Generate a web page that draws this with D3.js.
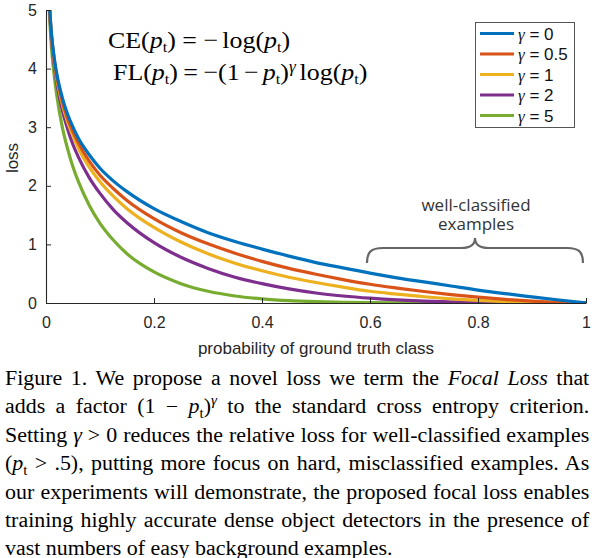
<!DOCTYPE html>
<html>
<head>
<meta charset="utf-8">
<script src="https://cdn.jsdelivr.net/npm/d3@7"></script>
<style>
  body { margin: 0; background: #fff; }
  #wrap { position: relative; width: 595px; height: 558px; overflow: hidden; }
  svg { position: absolute; left: 0; top: 0; }
  #caption { position: absolute; left: 5px; top: 364px; width: 585px;
             font-family: "Liberation Serif", "Times New Roman", serif; font-size: 20.5px;
             line-height: 28.4px; color: #000; }
  #caption div { height: 28.4px; width: 546px; transform: scaleX(1.07); transform-origin: 0 0;
                 text-align: justify; text-align-last: justify; white-space: nowrap; }
  #caption div.last { text-align-last: left; }
</style>
</head>
<body>
<div id="wrap"></div>
<script>
// probability of ground truth class (sample points)
var probs = [0.005, 0.01, 0.015, 0.02, 0.03, 0.04, 0.05, 0.06, 0.08, 0.1, 0.125, 0.15, 0.2, 0.25,
             0.3, 0.35, 0.4, 0.45, 0.5, 0.55, 0.6, 0.65, 0.7, 0.75, 0.8, 0.85, 0.9, 0.95, 1]

// loss values
var loss_g0  = [5.30, 4.61, 4.20, 3.91, 3.51, 3.22, 3.00, 2.81, 2.53, 2.30, 2.08, 1.90, 1.61, 1.39,
                1.20, 1.05, 0.92, 0.80, 0.69, 0.60, 0.51, 0.43, 0.36, 0.29, 0.22, 0.16, 0.105, 0.051, 0]
var loss_g05 = [5.29, 4.58, 4.17, 3.87, 3.45, 3.15, 2.92, 2.73, 2.42, 2.18, 1.95, 1.75, 1.44, 1.20,
                1.01, 0.85, 0.71, 0.59, 0.49, 0.40, 0.32, 0.255, 0.196, 0.144, 0.100, 0.063, 0.033, 0.012, 0]
var loss_g1  = [5.27, 4.56, 4.14, 3.83, 3.40, 3.09, 2.85, 2.64, 2.32, 2.07, 1.82, 1.61, 1.29, 1.04,
                0.84, 0.68, 0.55, 0.44, 0.35, 0.27, 0.20, 0.151, 0.107, 0.072, 0.045, 0.024, 0.011, 0.003, 0]
var loss_g2  = [5.25, 4.51, 4.08, 3.76, 3.30, 2.97, 2.70, 2.49, 2.14, 1.87, 1.59, 1.37, 1.03, 0.78,
                0.59, 0.44, 0.33, 0.24, 0.17, 0.12, 0.082, 0.053, 0.032, 0.018, 0.009, 0.004, 0.001, 0, 0]
var loss_g5  = [5.17, 4.38, 3.90, 3.54, 3.01, 2.63, 2.32, 2.07, 1.67, 1.36, 1.07, 0.84, 0.53, 0.33,
                0.20, 0.12, 0.071, 0.040, 0.022, 0.011, 0.005, 0.002, 0.001, 0, 0, 0, 0, 0, 0]

var gammas = ['0', '0.5', '1', '2', '5']
var colors = ['#0072BD', '#D95319', '#EDB120', '#7E2F8E', '#77AC30']
var xTicks = [0, 0.2, 0.4, 0.6, 0.8, 1]
var yTicks = [0, 1, 2, 3, 4, 5]

var series = [loss_g0, loss_g05, loss_g1, loss_g2, loss_g5].map(function (vals, i) {
  return { gamma: gammas[i], color: colors[i],
           pts: vals.map(function (v, j) { return [probs[j], v] }) }
})

var W = 595, H = 558
var m = { l: 46, r: 586, t: 10, b: 303 }

var svg = d3.select('#wrap').append('svg').attr('width', W).attr('height', H)

var x = d3.scaleLinear().domain([0, 1]).range([m.l, m.r])
var y = d3.scaleLinear().domain([0, 5]).range([m.b, m.t])

svg.append('defs').append('clipPath').attr('id', 'plot')
  .append('rect').attr('x', m.l).attr('y', m.t).attr('width', m.r - m.l).attr('height', m.b - m.t)

var line = d3.line().x(function (d) { return x(d[0]) }).y(function (d) { return y(d[1]) })
             .curve(d3.curveMonotoneX)

svg.append('g').attr('clip-path', 'url(#plot)')
  .selectAll('path').data(series.slice().reverse())
  .enter().append('path')
  .attr('d', function (d) { return line(d.pts) })
  .attr('fill', 'none')
  .attr('stroke', function (d) { return d.color })
  .attr('stroke-width', 3.2)

// axes, MATLAB style: ticks pointing in, no box
var xAxis = svg.append('g').attr('transform', 'translate(0,' + m.b + ')')
  .call(d3.axisBottom(x).tickValues(xTicks).tickSizeInner(-5).tickSizeOuter(0).tickPadding(14)
        .tickFormat(function (d) { return d === 0 || d === 1 ? d : d3.format('.1f')(d) }))
var yAxis = svg.append('g').attr('transform', 'translate(' + m.l + ',0)')
  .call(d3.axisLeft(y).tickValues(yTicks).tickSizeInner(-5).tickSizeOuter(0).tickPadding(9)
        .tickFormat(d3.format('d')))

;[xAxis, yAxis].forEach(function (a) {
  a.select('.domain').attr('stroke', '#262626').attr('stroke-width', 1.1)
  a.selectAll('.tick line').attr('stroke', '#262626')
  a.selectAll('text').attr('fill', '#262626')
    .style('font-family', '"Liberation Sans", Arial, sans-serif').style('font-size', '16px')
})

svg.append('text').attr('x', x(0.5)).attr('y', 354).attr('text-anchor', 'middle')
  .style('font-family', '"Liberation Sans", Arial, sans-serif').style('font-size', '17px')
  .attr('fill', '#262626').text('probability of ground truth class')

svg.append('text').attr('transform', 'translate(18,158) rotate(-90)').attr('text-anchor', 'middle')
  .style('font-family', '"Liberation Sans", Arial, sans-serif').style('font-size', '17px')
  .attr('fill', '#262626').text('loss')

// formulas
var serif = '"Liberation Serif", "Times New Roman", serif'
function pt(t, dx) {
  t.append('tspan').attr('dx', dx || 0).style('font-style', 'italic').text('p')
  t.append('tspan').attr('baseline-shift', '-25%').style('font-size', '15px').text('t')
}
function gap(t, s, w) { t.append('tspan').attr('dx', w).text(s) }

var ce = svg.append('text').attr('transform', 'translate(108,48) scale(1.08,1)')
  .style('font-family', serif).style('font-size', '24px')
ce.append('tspan').text('CE(')
pt(ce)
ce.append('tspan').text(')')
gap(ce, '=', 6)
gap(ce, '\u2212', 6)
gap(ce, 'log(', 4)
pt(ce)
ce.append('tspan').text(')')

var fl = svg.append('text').attr('transform', 'translate(113,80) scale(1.08,1)')
  .style('font-family', serif).style('font-size', '24px')
fl.append('tspan').text('FL(')
pt(fl)
fl.append('tspan').text(')')
gap(fl, '=', 5)
gap(fl, '\u2212(1', 5)
gap(fl, '\u2212', 4)
pt(fl, 4)
fl.append('tspan').text(')')
fl.append('tspan').attr('baseline-shift', '45%').style('font-size', '16px').style('font-style', 'italic').text('\u03b3')
gap(fl, 'log(', 3.5)
pt(fl)
fl.append('tspan').text(')')

// legend
var lg = svg.append('g')
lg.append('rect').attr('x', 475.5).attr('y', 22.5).attr('width', 99).attr('height', 105)
  .attr('fill', '#fff').attr('stroke', '#555').attr('stroke-width', 1)
var ly = d3.scalePoint().domain(gammas).range([33.5, 115.5])
var items = lg.selectAll('g.item').data(series).enter().append('g').attr('class', 'item')
  .attr('transform', function (d) { return 'translate(0,' + ly(d.gamma) + ')' })
items.append('line').attr('x1', 480).attr('x2', 514)
  .attr('stroke', function (d) { return d.color }).attr('stroke-width', 3.2)
var lt = items.append('text').attr('x', 518).attr('y', 6)
  .style('font-family', '"Liberation Sans", Arial, sans-serif').style('font-size', '17px').attr('fill', '#111')
lt.append('tspan').style('font-family', serif).style('font-style', 'italic').text('\u03b3')
lt.append('tspan').text(function (d) { return ' = ' + d.gamma })

// brace over the well-classified region
var bx0 = x(0.6) - 3, bx1 = x(1) - 3, bm = (bx0 + bx1) / 2
var b = d3.path()
b.moveTo(bx0, 263)
b.bezierCurveTo(bx0, 252, bx0 + 4, 248, bx0 + 16, 248)
b.lineTo(bm - 14, 248)
b.bezierCurveTo(bm - 5, 248, bm, 245, bm, 238)
b.bezierCurveTo(bm, 245, bm + 5, 248, bm + 14, 248)
b.lineTo(bx1 - 16, 248)
b.bezierCurveTo(bx1 - 4, 248, bx1, 252, bx1, 263)
svg.append('path').attr('d', b.toString()).attr('fill', 'none').attr('stroke', '#666').attr('stroke-width', 2.2)

var wc = svg.append('text').attr('text-anchor', 'middle').attr('fill', '#333')
  .style('font-family', '"Open Sans", sans-serif').style('font-size', '17px')
wc.append('tspan').attr('x', bm + 1).attr('y', 211).text('well-classified')
wc.append('tspan').attr('x', bm + 1).attr('y', 230).text('examples')

// caption
var capLines = [
  'Figure 1. We propose a novel loss we term the <i>Focal Loss</i> that',
  'adds a factor (1 \u2212 <i>p</i><sub>t</sub>)<sup><i>\u03b3</i></sup> to the standard cross entropy criterion.',
  'Setting <i>\u03b3</i> &gt; 0 reduces the relative loss for well-classified examples',
  '(<i>p</i><sub>t</sub> &gt; .5), putting more focus on hard, misclassified examples. As',
  'our experiments will demonstrate, the proposed focal loss enables',
  'training highly accurate dense object detectors in the presence of',
  'vast numbers of easy background examples.'
]
d3.select('#wrap').append('div').attr('id', 'caption')
  .selectAll('div').data(capLines).enter().append('div')
  .attr('class', function (d, i) { return i === capLines.length - 1 ? 'last' : null })
  .html(function (d) { return d })
d3.selectAll('#caption sub, #caption sup').style('font-size', '14px').style('line-height', '0')
</script>
</body>
</html>
